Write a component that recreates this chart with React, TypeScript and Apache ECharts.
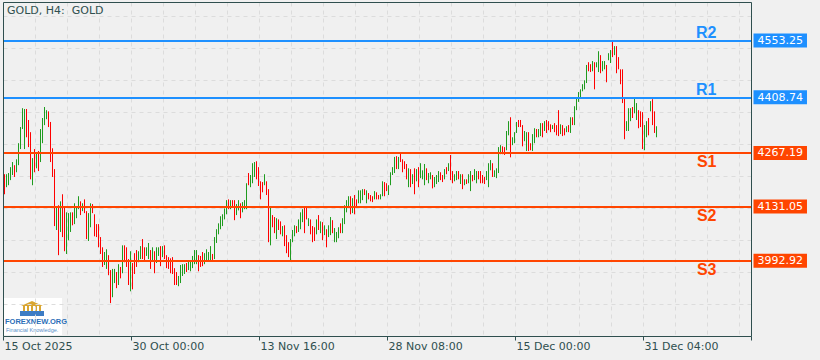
import React, { useEffect, useRef } from "react";
import * as echarts from "echarts";

const chartTitle = "GOLD, H4:  GOLD";
const slotCount = 374;
const tickIndices = [0, 64, 128, 192, 256, 320];
const tickLabels = ["15 Oct 2025", "30 Oct 00:00", "13 Nov 16:00", "28 Nov 08:00", "15 Dec 00:00", "31 Dec 04:00"];

const levelNames = ["R2", "R1", "S1", "S2", "S3"];
const levelValues = [4553.25, 4408.74, 4267.19, 4131.05, 3992.92];

const highs = [
  4213, 4213, 4216, 4231, 4244, 4236, 4251, 4292, 4333, 4381,
  4379, 4379, 4351, 4320, 4254, 4277, 4269, 4272, 4328, 4356,
  4384, 4376, 4373, 4346, 4279, 4226, 4132, 4134, 4144, 4162,
  4129, 4116, 4114, 4116, 4116, 4139, 4129, 4157, 4144, 4139,
  4149, 4119, 4114, 4139, 4137, 4111, 4086, 4086, 4053, 4027,
  4015, 4022, 4007, 3969, 3972, 3972, 3964, 3984, 3977, 4032,
  4032, 4027, 3997, 4017, 3987, 4012, 4020, 4017, 4030, 4048,
  4027, 4027, 4038, 4020, 4027, 4017, 4027, 4027, 4030, 4030,
  4032, 4007, 4002, 3999, 4002, 3974, 3964, 3954, 3982, 3984,
  3984, 3987, 3994, 3992, 4005, 4020, 4020, 4007, 4005, 4015,
  4012, 4022, 4015, 4030, 4010, 4053, 4073, 4088, 4106, 4111,
  4126, 4147, 4149, 4147, 4147, 4147, 4137, 4147, 4139, 4142,
  4147, 4190, 4216, 4211, 4241, 4244, 4246, 4231, 4195, 4193,
  4213, 4195, 4175, 4132, 4109, 4104, 4101, 4098, 4093, 4081,
  4083, 4058, 4040, 4048, 4071, 4083, 4081, 4098, 4116, 4124,
  4129, 4129, 4101, 4098, 4081, 4078, 4098, 4109, 4093, 4091,
  4083, 4073, 4083, 4104, 4096, 4076, 4066, 4078, 4088, 4101,
  4134, 4147, 4157, 4157, 4152, 4160, 4149, 4172, 4172, 4175,
  4175, 4172, 4165, 4160, 4157, 4170, 4167, 4160, 4162, 4195,
  4193, 4190, 4185, 4218, 4231, 4257, 4259, 4257, 4267, 4251,
  4246, 4239, 4228, 4226, 4213, 4228, 4226, 4231, 4241, 4223,
  4239, 4228, 4216, 4218, 4211, 4206, 4211, 4221, 4218, 4211,
  4226, 4231, 4241, 4262, 4221, 4213, 4221, 4221, 4213, 4213,
  4200, 4200, 4213, 4221, 4211, 4226, 4221, 4221, 4221, 4211,
  4206, 4221, 4241, 4249, 4241, 4223, 4228, 4282, 4287, 4284,
  4282, 4323, 4348, 4358, 4307, 4320, 4346, 4351, 4351, 4338,
  4323, 4320, 4320, 4292, 4315, 4330, 4328, 4328, 4343, 4343,
  4348, 4351, 4348, 4340, 4338, 4343, 4338, 4376, 4340, 4338,
  4330, 4335, 4338, 4358, 4358, 4386, 4409, 4422, 4429, 4442,
  4452, 4491, 4498, 4493, 4501, 4498, 4498, 4526, 4516, 4501,
  4501, 4491, 4521, 4529, 4552, 4539, 4539, 4511, 4480, 4480,
  4409, 4348, 4381, 4381, 4384, 4407, 4394, 4376, 4373, 4371,
  4338, 4348, 4356, 4399, 4404, 4373, 4335,
];

const lows = [
  4162, 4180, 4185, 4198, 4211, 4206, 4218, 4236, 4277, 4328,
  4277, 4307, 4282, 4200, 4185, 4218, 4228, 4221, 4244, 4292,
  4338, 4353, 4333, 4244, 4206, 4081, 4071, 4007, 4066, 4053,
  4017, 4010, 4045, 4066, 4083, 4086, 4101, 4124, 4109, 4119,
  4114, 4048, 4043, 4078, 4114, 4055, 4053, 4027, 4010, 3977,
  3982, 3972, 3956, 3885, 3900, 3936, 3923, 3931, 3948, 3961,
  3989, 3977, 3931, 3915, 3920, 3959, 3977, 3989, 3997, 3997,
  3992, 4005, 3997, 3972, 3994, 3961, 3987, 4005, 3979, 4002,
  3997, 3974, 3972, 3961, 3959, 3931, 3931, 3928, 3936, 3954,
  3959, 3964, 3969, 3966, 3974, 3984, 3984, 3966, 3977, 3979,
  3984, 3992, 3992, 3994, 3992, 3997, 4038, 4060, 4073, 4081,
  4098, 4111, 4124, 4124, 4129, 4096, 4109, 4121, 4101, 4116,
  4124, 4124, 4185, 4180, 4190, 4206, 4200, 4183, 4149, 4167,
  4185, 4160, 4040, 4032, 4078, 4063, 4048, 4071, 4060, 4055,
  4030, 4012, 4002, 3994, 4040, 4055, 4063, 4066, 4073, 4091,
  4063, 4098, 4081, 4060, 4040, 4043, 4060, 4071, 4063, 4045,
  4058, 4027, 4053, 4058, 4063, 4040, 4040, 4050, 4063, 4063,
  4086, 4116, 4129, 4111, 4114, 4111, 4129, 4139, 4139, 4147,
  4160, 4139, 4149, 4144, 4142, 4149, 4149, 4149, 4149, 4157,
  4157, 4170, 4160, 4185, 4211, 4216, 4226, 4226, 4244, 4218,
  4226, 4200, 4180, 4180, 4188, 4162, 4195, 4180, 4203, 4200,
  4185, 4198, 4190, 4200, 4177, 4180, 4188, 4193, 4198, 4193,
  4200, 4213, 4221, 4198, 4190, 4195, 4198, 4200, 4188, 4175,
  4185, 4188, 4190, 4170, 4195, 4198, 4190, 4200, 4190, 4190,
  4188, 4198, 4180, 4223, 4206, 4206, 4203, 4216, 4264, 4264,
  4262, 4274, 4312, 4256, 4287, 4292, 4318, 4333, 4333, 4284,
  4297, 4272, 4272, 4274, 4272, 4292, 4307, 4307, 4310, 4307,
  4323, 4318, 4325, 4320, 4328, 4320, 4312, 4310, 4315, 4310,
  4312, 4320, 4320, 4318, 4338, 4338, 4376, 4397, 4407, 4424,
  4429, 4445, 4475, 4473, 4475, 4429, 4485, 4473, 4470, 4475,
  4480, 4447, 4503, 4496, 4511, 4516, 4470, 4480, 4442, 4394,
  4302, 4323, 4323, 4348, 4356, 4368, 4351, 4330, 4333, 4277,
  4274, 4307, 4312, 4373, 4338, 4318, 4307,
];

// u = bullish bar, d = bearish bar
const directions = [
  "duuuuduuuu", "udddududuu", "uuddddudud", "duuuduuudu", "dduudddddd",
  "uudduududu", "ddduddduud", "duududuudu", "ddddddduuu", "uduuuuuddd",
  "uuuuduuuuu", "uududduudu", "uuduuudddd", "uddudduddu", "ddduuuduuu",
  "ddudddudud", "uduuduuudu", "uuududduuu", "dudddudduu", "dduuuududd",
  "ddudududuu", "uduuduuudd", "ududduudud", "uduuduuddd", "duuuduuuud",
  "duuduuuddd", "uudduuduud", "udddudddud", "dududuuuuu", "uudduduudu",
  "uduududddd", "duuuduuddd", "uududdu",
].join("");

const UP = "#1f9b1f";
const DOWN = "#ff0000";
const RES = "#1e90ff";
const SUP = "#ff4500";
const INK = "#2f4f4f";

export default function App() {
  const ref = useRef<HTMLDivElement>(null);

  useEffect(() => {
    if (!ref.current) return;
    const chart = echarts.init(ref.current, undefined, { renderer: "svg" });

    const categories = Array.from({ length: slotCount }, (_, i) => String(i));
    const candles = highs.map((h, i) => {
      const l = lows[i];
      return directions[i] === "u" ? [l, h, l, h] : [h, l, l, h];
    });

    const showTick = (index: number) => tickIndices.indexOf(index) >= 0;

    const markData: any[] = [];
    levelValues.forEach((v, k) => {
      const isRes = levelNames[k].startsWith("R");
      const c = isRes ? RES : SUP;
      markData.push({
        yAxis: v,
        lineStyle: { color: c, width: 2, type: "solid" },
        label: {
          show: true,
          position: isRes ? "insideEndTop" : "insideEndBottom",
          formatter: levelNames[k],
          color: c,
          fontFamily: "Liberation Sans",
          fontWeight: "bold",
          fontSize: 16,
          distance: [35, isRes ? 0 : 1],
        },
      });
      markData.push({
        yAxis: v,
        lineStyle: { color: c, width: 2, type: "solid" },
        label: {
          show: true,
          position: "end",
          distance: 2,
          formatter: v.toFixed(2),
          color: "#ffffff",
          backgroundColor: c,
          padding: [1, 4, 1, 4],
          fontFamily: "DejaVu Sans",
          fontSize: 11,
          lineHeight: 12,
        },
      });
    });

    chart.setOption({
      animation: false,
      backgroundColor: "#f0f0f0",
      title: {
        text: chartTitle,
        left: 7,
        top: 5,
        padding: 0,
        textStyle: { fontFamily: "DejaVu Sans", fontSize: 11, fontWeight: "normal", color: INK },
      },
      grid: {
        left: 3.5,
        top: 2.5,
        width: 748,
        height: 334,
        show: true,
        z: 6,
        borderColor: INK,
        borderWidth: 1,
        backgroundColor: "transparent",
      },
      xAxis: {
        type: "category",
        data: categories,
        boundaryGap: true,
        axisLine: { show: false },
        axisTick: { show: true, interval: showTick, length: 4, lineStyle: { color: INK } },
        axisLabel: {
          interval: showTick,
          formatter: (_v: string, index: number) => tickLabels[tickIndices.indexOf(index)] ?? "",
          align: "left",
          margin: 4,
          color: INK,
          fontFamily: "DejaVu Sans",
          fontSize: 11,
        },
        splitLine: {
          show: true,
          interval: (index: number) => index % 16 === 0,
          lineStyle: { color: "#dcdcdc", type: [4, 4], width: 1 },
        },
      },
      yAxis: [
        {
          type: "value",
          min: 3800,
          max: 4650,
          position: "right",
          axisLine: { show: false },
          axisTick: { show: false },
          axisLabel: { show: false },
          splitLine: { show: false },
        },
        {
          type: "value",
          min: 0,
          max: 10.4375,
          interval: 1,
          position: "left",
          axisLine: { show: false },
          axisTick: { show: false },
          axisLabel: { show: false },
          splitLine: { show: true, lineStyle: { color: "#dcdcdc", type: [4, 4], width: 1 } },
        },
      ],
      series: [
        {
          type: "candlestick",
          data: candles,
          barWidth: 1,
          itemStyle: {
            color: UP,
            color0: DOWN,
            borderColor: UP,
            borderColor0: DOWN,
            borderWidth: 1,
          },
          markLine: {
            symbol: ["none", "none"],
            silent: true,
            animation: false,
            data: markData,
          },
        },
      ],
      graphic: [
        {
          type: "group",
          left: 3,
          top: 298,
          z: 8,
          children: [
            { type: "rect", shape: { x: 0, y: 0, width: 59, height: 37 }, style: { fill: "#ffffff" } },
            { type: "polygon", shape: { points: [[18, 8], [29, 3], [40, 8]] }, style: { fill: "#d9a632" } },
            { type: "rect", shape: { x: 20, y: 8, width: 2, height: 5 }, style: { fill: "#d9a632" } },
            { type: "rect", shape: { x: 24, y: 8, width: 2, height: 5 }, style: { fill: "#d9a632" } },
            { type: "rect", shape: { x: 28, y: 8, width: 2, height: 5 }, style: { fill: "#d9a632" } },
            { type: "rect", shape: { x: 32, y: 8, width: 2, height: 5 }, style: { fill: "#d9a632" } },
            { type: "rect", shape: { x: 36, y: 8, width: 2, height: 5 }, style: { fill: "#d9a632" } },
            { type: "rect", shape: { x: 17, y: 13, width: 24, height: 5 }, style: { fill: "#3d7cc4" } },
            {
              type: "text",
              x: 2,
              y: 19,
              style: { text: "FOREXNEW.ORG", fill: "#2c6fb8", font: 'bold 7.5px "Liberation Sans"' },
            },
            {
              type: "text",
              x: 3,
              y: 28.5,
              style: { text: "Financial Knowledge.", fill: "#5b8fc9", font: '5.5px "Liberation Sans"' },
            },
          ],
        },
      ],
    });

    return () => chart.dispose();
  }, []);

  return (
    <div
      ref={ref}
      style={{ position: "fixed", left: 0, top: 0, width: 820, height: 360, background: "#f0f0f0" }}
    />
  );
}
